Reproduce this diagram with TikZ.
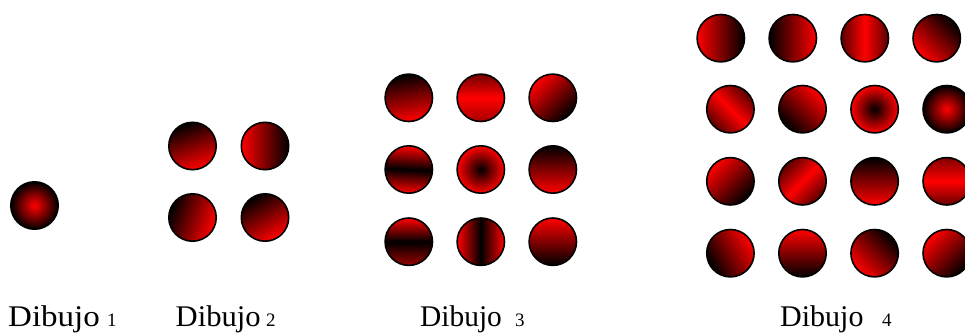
\documentclass[tikz,border=0pt]{standalone}
\usepackage{fontspec}
\setmainfont{Liberation Serif}
\begin{document}
\begin{tikzpicture}[x=1pt,y=-1pt,
 coin/.style={circle,draw=black,line width=1.6pt,minimum size=47.4pt,inner sep=0pt},
 grad/.style={top color=black,bottom color=red,shading angle=#1},
 bandk/.style={top color=red,bottom color=red,middle color=black,shading angle=#1},
 bandr/.style={top color=red!35!black,bottom color=red!35!black,middle color=red,shading angle=#1},
 rin/.style={inner color=black,outer color=red},
 rout/.style={inner color=red,outer color=black},
 word/.style={anchor=base west,inner sep=0pt,font=\fontsize{30}{32}\selectfont},
 num/.style={anchor=base west,inner sep=0pt,font=\fontsize{19}{20}\selectfont}]
\useasboundingbox (0,0) rectangle (965,332);
\clip (0,0) rectangle (965,332);
% Dibujo 1
\node[coin,rout] (a1) at (34.5,205.5) {};
% Dibujo 2
\node[coin,grad=20]  (b11) at (192.5,146) {};
\node[coin,grad=-90] (b12) at (265,146) {};
\node[coin,grad=70]  (b21) at (192.5,217.5) {};
\node[coin,grad=30]  (b22) at (265,217.5) {};
% Dibujo 3
\node[coin,grad=10] (c11) at (408.8,97.8) {};
\node[coin,top color=red!45!black,bottom color=red!65!black,middle color=red] (c12) at (480.8,97.8) {};
\node[coin,grad=-135] (c13) at (552.8,97.8) {};
\node[coin,bandk=-3] (c21) at (408.8,169.5) {};
\node[coin,rin] (c22) at (480.8,169.5) {};
\node[coin,grad=0] (c23) at (552.8,169.5) {};
\node[coin,top color=red,bottom color=red!60!black,middle color=black] (c31) at (408.8,241.7) {};
\node[coin,bandk=90] (c32) at (480.8,241.7) {};
\node[coin,grad=180] (c33) at (552.8,241.7) {};
% Dibujo 4
\node[coin,grad=-90] (d11) at (720.8,38.2) {};
\node[coin,grad=90]  (d12) at (792.8,38.2) {};
\node[coin,bandr=90] (d13) at (864.8,38.2) {};
\node[coin,grad=-45] (d14) at (936.7,38.2) {};
\node[coin,bandr=-45] (d21) at (730.4,109.2) {};
\node[coin,grad=135] (d22) at (802.5,109.2) {};
\node[coin,rin] (d23) at (874.6,109.2) {};
\node[coin,rout] (d24) at (946.7,109.2) {};
\node[coin,grad=-135] (d31) at (730.4,181.3) {};
\node[coin,bandr=45] (d32) at (802.5,181.3) {};
\node[coin,grad=0] (d33) at (874.6,181.3) {};
\node[coin,top color=red!50!black,bottom color=red!40!black,middle color=red] (d34) at (946.7,181.3) {};
\node[coin,grad=120] (d41) at (730.4,253.2) {};
\node[coin,grad=180] (d42) at (802.5,253.2) {};
\node[coin,grad=-45] (d43) at (874.6,253.2) {};
\node[coin,grad=-135] (d44) at (946.7,253.2) {};
% labels
\node[word] (w1) at (8,326) {\scalebox{1.1}[1]{Dibujo}};
\node[num]  (n1) at (107,326) {1};
\node[word] (w2) at (175.5,326) {\scalebox{1.02}[1]{Dibujo}};
\node[num]  (n2) at (266,326) {2};
\node[word] (w3) at (420,326) {\scalebox{0.98}[1]{Dibujo}};
\node[num]  (n3) at (515,326) {3};
\node[word] (w4) at (780,326) {Dibujo};
\node[num]  (n4) at (882,326) {4};
\end{tikzpicture}
\end{document}
